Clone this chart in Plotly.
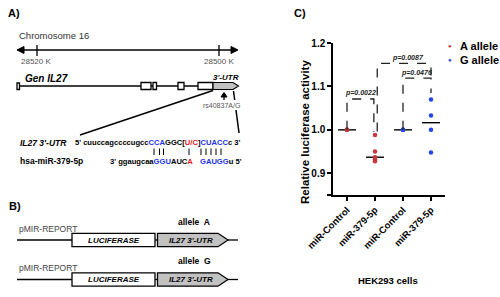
import numpy as np
import plotly.graph_objects as go

W, H = 500, 297
FONT = "Arial, Liberation Sans, sans-serif"

# ---------------- data (panel C) ----------------
categories = ["miR-Control", "miR-379-5p", "miR-Control", "miR-379-5p"]
a_ctrl = [1.0, 1.0, 1.0]
a_mir = [0.988, 0.950, 0.937, 0.932, 0.928]
g_ctrl = [1.0, 1.0, 1.0]
g_mir = [1.070, 1.033, 1.000, 0.948]
y_ticks = [0.9, 1.0, 1.1, 1.2]
y_tick_labels = ["0.9", "1.0", "1.1", "1.2"]
p_values = ["p=0.0022", "p=0.0087", "p=0.0476"]
RED = "#c8353c"
BLUE = "#2345ee"


def px(x):
    return x / W


def py(y):
    return 1 - y / H


shapes = []
annots = []


def line(x0, y0, x1, y1, color="black", width=1.3, dash=None):
    d = dict(type="line", xref="paper", yref="paper", x0=px(x0), y0=py(y0),
             x1=px(x1), y1=py(y1), line=dict(color=color, width=width))
    if dash:
        d["line"]["dash"] = dash
    shapes.append(d)


def rect(x0, y0, x1, y1, fill="white", width=1.3):
    shapes.append(dict(type="rect", xref="paper", yref="paper", x0=px(x0), y0=py(y0),
                       x1=px(x1), y1=py(y1), fillcolor=fill,
                       line=dict(color="black", width=width)))


def poly(pts, fill="black", width=1.0, color="black"):
    path = "M " + " L ".join(f"{px(a):.5f},{py(b):.5f}" for a, b in pts) + " Z"
    shapes.append(dict(type="path", xref="paper", yref="paper", path=path,
                       fillcolor=fill, line=dict(color=color, width=width)))


def text(x, y, s, size=9, color="black", xanchor="left", yanchor="middle", angle=0):
    annots.append(dict(x=px(x), y=py(y), xref="paper", yref="paper", text=s,
                       showarrow=False, xanchor=xanchor, yanchor=yanchor,
                       textangle=angle,
                       font=dict(family=FONT, size=size, color=color)))


# ---------------- panel A ----------------
text(6, 13, "<b>A)</b>", size=11)
text(17, 35, "Chromosome 16", size=9.5, color="#333")
line(19, 50, 236, 50, width=1.4)
poly([(17, 50), (24, 46.5), (24, 53.5)])
poly([(238, 50), (231, 46.5), (231, 53.5)])
line(37, 45, 37, 56, width=1.3)
line(219, 45, 219, 56, width=1.3)
text(36, 61.5, "28520 K", size=8, color="#555", xanchor="center")
text(219, 61.5, "28500 K", size=8, color="#555", xanchor="center")

text(23, 78, "<b><i>Gen IL27</i></b>", size=10)
text(226, 77, "<b><i>3'-UTR</i></b>", size=8, xanchor="center")
line(19, 86, 213, 86, width=1.3)
rect(17, 83, 19.5, 89.5)
rect(141, 82.5, 151, 89.5)
rect(153, 82.5, 156.5, 89.5)
rect(178, 82.5, 184, 89.5)
rect(198, 82.5, 213, 89.5)
poly([(213, 82.5), (233, 82.5), (238.5, 86), (233, 89.5), (213, 89.5)], fill="#c2c2c2", width=1.2)
# SNP arrow
line(224, 94, 224, 100, width=1.3)
poly([(221, 97), (224, 92.5), (227, 97)])
text(221, 106, "rs40837A/G", size=7, color="#555", xanchor="center")
line(80, 135, 213, 90.5, width=1.5)
line(233.5, 91, 234.7, 100, width=1.5)
line(236, 110, 239, 133, width=1.5)

SEQ = 7.6
text(18, 143, "<b><i>IL27 3'-UTR</i></b>", size=8.5)
seq_top = ("<b>5' cuuccagccccugcc<span style='color:#2233ee'>CCA</span>GGC["
           "<span style='color:#e02020'>U/C</span>]<span style='color:#2233ee'>CUACC</span>c 3'</b>")
text(73, 143, seq_top, size=SEQ)
for bx in [154, 159.5, 163.5, 189, 201, 206, 211, 216, 221]:
    line(bx, 148.5, bx, 155, width=1.0)
text(18, 161, "<b>hsa-miR-379-5p</b>", size=8.5)
seq_bot1 = ("<b>3' ggaugcaa<span style='color:#2233ee'>GGU</span>AUC"
            "<span style='color:#e02020'>A</span></b>")
text(108, 161, seq_bot1, size=SEQ)
seq_bot2 = "<b><span style='color:#2233ee'>GAUGG</span>u 5'</b>"
text(198, 161, seq_bot2, size=SEQ)

# ---------------- panel B ----------------
text(7, 206, "<b>B)</b>", size=11)
for (ly, lab) in [(240, "A"), (279.5, "G")]:
    text(17, ly - 11.5, "pMIR-REPORT", size=8.5, color="#444")
    text(194, ly - 18.5, f"<b>allele  {lab}</b>", size=8.5, xanchor="center")
    line(17, ly, 72, ly, width=1.3)
    line(155, ly, 158, ly, width=1.3)
    line(228, ly, 238, ly, width=1.3)
    rect(72, ly - 6.7, 155, ly + 6.7)
    poly([(157.5, ly - 6.7), (218, ly - 6.7), (228, ly), (218, ly + 6.7), (157.5, ly + 6.7)],
         fill="#c2c2c2", width=1.3)
    text(113.5, ly, "<b><i>LUCIFERASE</i></b>", size=8, xanchor="center")
    text(191, ly, "<b><i>IL27 3'-UTR</i></b>", size=8, xanchor="center")

# ---------------- panel C ----------------
text(292, 13, "<b>C)</b>", size=11)
text(305, 132, "<b>Relative luciferase activity</b>", size=11.5, xanchor="center", angle=-90)
text(388, 280, "<b>HEK293 cells</b>", size=9.5, xanchor="center")
# legend
text(450, 46, "●", size=6, color=RED, xanchor="center")
text(458, 46, "<b>A allele</b>", size=11)
text(450, 60, "●", size=6, color=BLUE, xanchor="center")
text(458, 60, "<b>G allele</b>", size=11)

fig = go.Figure()

groups = [(0, a_ctrl, RED), (1, a_mir, RED), (2, g_ctrl, BLUE), (3, g_mir, BLUE)]
for i, vals, col in groups:
    m = float(np.median(vals))
    fig.add_trace(go.Scatter(x=[i - 0.32, i + 0.32], y=[m, m], mode="lines",
                             line=dict(color="black", width=1.4), showlegend=False,
                             hoverinfo="skip", xaxis="x", yaxis="y"))
for i, vals, col in groups:
    fig.add_trace(go.Scatter(x=[i] * len(vals), y=vals, mode="markers",
                             marker=dict(color=col, size=4.5), showlegend=False,
                             xaxis="x", yaxis="y"))

# significance brackets
brackets = [
    ([0, 0, 0.96, 0.96], [1.0, 1.071, 1.071, 0.995]),
    ([1.08, 1.08, 3, 3], [0.996, 1.153, 1.153, 1.125]),
    ([2, 2, 3, 3], [1.0, 1.119, 1.119, 1.085]),
]
for xs, ys in brackets:
    path = "M " + " L ".join(f"{a},{b}" for a, b in zip(xs, ys))
    shapes.append(dict(type="path", xref="x", yref="y", path=path,
                       line=dict(color="#222", width=1.3, dash="dash")))
for (xp, yp), lab in zip([(0.48, 1.085), (2.18, 1.166), (2.49, 1.131)], p_values):
    annots.append(dict(x=xp, y=yp, xref="x", yref="y", text=f"<b><i>{lab}</i></b>",
                       showarrow=False, font=dict(family=FONT, size=7, color="#222")))

axis_common = dict(showline=True, linecolor="black", linewidth=1.5, ticks="outside",
                   ticklen=4, tickwidth=1.5, tickcolor="black", showgrid=False,
                   zeroline=False, automargin=False)

fig.update_layout(
    width=W, height=H, margin=dict(l=0, r=0, t=0, b=0, pad=0, autoexpand=False),
    autosize=False,
    paper_bgcolor="white", plot_bgcolor="white", showlegend=False,
    shapes=shapes, annotations=annots,
    xaxis=dict(domain=[333 / W, 445 / W], range=[-0.5, 3.5], anchor="y2",
               tickvals=[0, 1, 2, 3], ticktext=[f"<b>{c}</b>" for c in categories],
               tickangle=-45, **axis_common,
               tickfont=dict(family=FONT, size=9.5, color="black")),
    yaxis=dict(domain=[py(195), py(43)], range=[0.85, 1.2], anchor="x",
               tickvals=[0.85] + y_ticks, ticktext=[""] + [f"<b>{t}</b>" for t in y_tick_labels],
               **axis_common,
               tickfont=dict(family=FONT, size=10, color="black")),
    yaxis2=dict(domain=[py(227), py(202)], range=[0, 0.0575], anchor="x",
                tickvals=[0, 0.0575], ticktext=["<b>0</b>", ""],
                **axis_common,
                tickfont=dict(family=FONT, size=10, color="black")),
)

fig.write_html("out.html", config={"displayModeBar": False},
               post_script="document.body.style.margin='0px';document.body.style.overflow='hidden';")
